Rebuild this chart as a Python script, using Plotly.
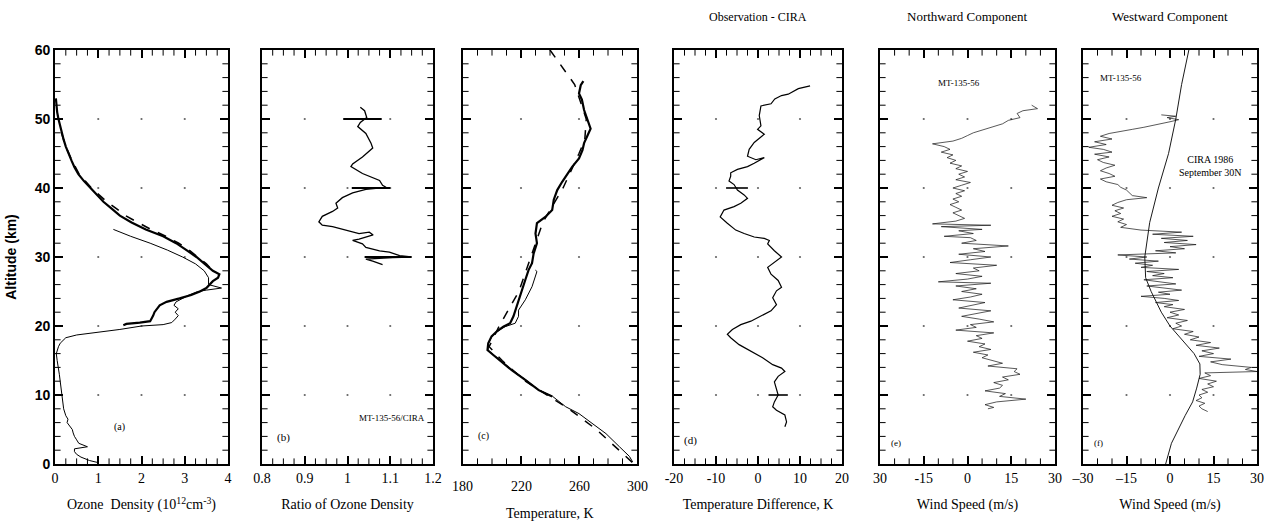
import plotly.graph_objects as go

W, H = 1270, 527

# ---------------- data ----------------
# (a) ozone density, 10^12 cm^-3
lidar_alt = [53, 52, 51, 50, 49, 48, 47, 46, 45, 44, 43, 42, 41, 40, 39, 38, 37, 36, 35, 34, 33, 32, 31, 30,
             29, 28.5, 28, 27.5, 27, 26.5, 26, 25.5, 25, 24.5, 24, 23.5, 23, 22.5, 22, 21.5, 21, 20.7, 20.5, 20.3, 20.1]
lidar_den = [0.02, 0.03, 0.05, 0.08, 0.12, 0.15, 0.2, 0.25, 0.31, 0.38, 0.45, 0.54, 0.67, 0.82, 0.97, 1.12, 1.31, 1.5, 1.77, 2.1, 2.5, 2.8, 3.04, 3.27,
             3.46, 3.55, 3.65, 3.8, 3.77, 3.65, 3.58, 3.5, 3.35, 3.15, 2.88, 2.58, 2.42, 2.35, 2.3, 2.27, 2.23, 2.2, 1.96, 1.65, 1.58]
cira_oz_alt = [48, 46, 44, 42, 40, 38, 37, 36, 35, 34, 33, 32, 31, 30, 29, 28]
cira_oz_den = [0.15, 0.25, 0.39, 0.56, 0.84, 1.2, 1.42, 1.63, 1.92, 2.22, 2.56, 2.86, 3.1, 3.3, 3.5, 3.65]
sonde_alt = [34, 33, 32, 31, 30, 29, 28, 27, 26, 25.7, 25.5, 25.2, 25, 24.5, 24, 23.5, 23, 22.5, 22, 21.5, 21, 20.5,
             20.2, 20, 19.5, 19, 18.7, 18.3, 17.5, 17, 16.5, 16, 15, 14, 13, 12, 11, 10, 9, 8, 7, 6.5, 6, 5.5, 5,
             4.5, 4, 3.5, 3, 2.5, 2.2, 1.8, 1.4, 1, 0.5, 0.2]
sonde_den = [1.35, 1.75, 2.2, 2.6, 2.95, 3.25, 3.45, 3.55, 3.55, 3.7, 3.85, 3.5, 3.3, 3.1, 2.95, 2.8, 2.75, 2.85, 2.78, 2.85, 2.78, 2.7,
             2.5, 2.0, 1.5, 0.9, 0.5, 0.25, 0.12, 0.08, 0.05, 0.03, 0.05, 0.08, 0.1, 0.12, 0.14, 0.16, 0.18, 0.2, 0.25, 0.3, 0.28, 0.35, 0.4,
             0.42, 0.45, 0.5, 0.55, 0.75, 0.45, 0.45, 0.5, 0.6, 0.8, 1.0]

# (b) ratio of ozone density
ratio_alt = [51.7, 51.2, 50.2, 49.5, 48.9, 47.9, 46.5, 45.8, 44.5, 43.5, 43.1, 42.1, 41.1, 40.4, 40.1, 39.8, 39.3,
             38.6, 37.8, 37.1, 36.6, 35.9, 35.1, 34.6, 34.4, 33.9, 33.4, 33.6, 33.2, 32.6, 32.4, 31.9, 31.4, 30.9,
             30.7, 30.2, 30.0, 29.9, 29.7, 29.4, 28.9]
ratio_val = [1.03, 1.04, 1.045, 1.03, 1.024, 1.043, 1.055, 1.059, 1.035, 1.012, 1.008, 1.035, 1.075, 1.082, 1.09, 1.043, 1.012,
             0.988, 0.973, 0.977, 0.965, 0.941, 0.933, 0.941, 0.965, 0.996, 1.027, 1.051, 1.06, 1.027, 1.012, 1.035, 1.043, 1.075,
             1.098, 1.122, 1.149, 1.106, 1.043, 1.059, 1.082]
ratio_err_alt = [50, 40, 30]
ratio_err_mid = [1.035, 1.055, 1.095]
ratio_err_half = [0.045, 0.045, 0.055]

# (c) temperature, K
tobs_alt = [55.5, 54.9, 53.7, 52.8, 51.3, 49.9, 48.6, 47.9, 46.5, 45.5, 44.3, 43.1, 42.1, 40.9, 39.7, 38.3, 36.8, 35.8,
            34.9, 33.4, 32.0, 30.5, 29.1, 28.1, 26.7, 25.2, 23.8, 22.3, 21.4, 20.4, 19.9, 19.2, 18.5, 17.5, 16.5, 15.8,
            14.8, 13.6, 12.2, 10.7, 9.8]
tobs_val = [263, 261.2, 260, 262, 263.5, 265.8, 268, 266.5, 263.5, 262.4, 260, 255.4, 252, 248.4, 245, 242.6, 241.5, 236.8,
            231, 230, 231, 228.7, 227.6, 225.2, 223, 220.6, 218.3, 216, 214.8, 212.5, 207.8, 203.2, 199.7, 197.4, 196.9, 200.9,
            206.7, 213.6, 222.9, 232.2, 241.5]
tson_alt = [28.1, 27.9, 25.7, 23.8, 22.3, 21.4, 20.4, 19.9, 19.2, 18.5, 17.5, 16.5, 15.8, 14.8, 13.6, 12.2, 10.7, 9.8,
            8.3, 7.3, 5.9, 4.4, 2.5, 1.1, 0.3]
tson_val = [229.9, 231, 227.6, 223, 218.3, 218.3, 216, 209, 203.5, 200, 197.6, 197.2, 201.2, 207, 214, 223.3, 232.5, 241.8,
            250.8, 260, 269.3, 278.6, 287.9, 294.8, 297]
tcira_alt = [60, 55, 50, 47, 45, 40, 35, 30, 25, 20, 17, 15, 12, 10, 8, 5, 2, 0]
tcira_val = [240, 257, 265, 264, 260, 249, 235, 227, 218.5, 205, 198, 207, 223, 238, 253, 272, 288, 298]

# (d) observation - CIRA, K
dT_alt = [54.8, 54.4, 53.6, 53.4, 52.9, 52.2, 51.9, 50.5, 49.0, 48.5, 47.8, 46.6, 45.6, 44.6, 44.1, 44.4, 43.6, 43.1,
          42.7, 42.2, 41.7, 41.0, 40.5, 39.7, 39.0, 38.5, 37.8, 37.3, 36.8, 35.8, 34.9, 33.9, 33.4, 32.9, 32.7, 32.4,
          31.9, 30.9, 30.0, 29.2, 28.5, 27.5, 26.6, 25.6, 25.1, 24.1, 23.1, 22.2, 21.7, 20.7, 20.2, 19.5, 18.8, 18.3,
          17.3, 16.3, 15.4, 14.4, 13.9, 13.4, 12.7, 11.9, 11.0, 10.0, 9.0, 8.3, 7.8, 7.1, 6.1, 5.4]
dT_val = [12.4, 9.6, 7.2, 5.6, 4.0, 3.1, 0.7, 0.3, 0.7, -0.1, 1.5, -0.9, -2.1, -2.5, -0.5, 1.5, -0.9, -2.5,
          -4.9, -6.5, -6.5, -6.9, -5.7, -4.9, -3.3, -2.5, -4.1, -5.7, -8.1, -9.0, -7.3, -5.3, -3.3, -0.9, 1.5, 2.7,
          2.3, 3.9, 5.6, 3.9, 2.3, 3.1, 4.8, 5.6, 4.4, 3.5, 4.4, 3.1, 1.5, -1.7, -4.1, -6.1, -7.3, -6.5,
          -4.5, -1.7, 1.1, 3.5, 5.6, 6.4, 4.8, 3.9, 4.4, 4.8, 3.9, 3.5, 4.4, 6.4, 6.8, 6.4]
dT_err_alt = [40, 10]
dT_err_mid = [-5.0, 4.8]
dT_err_half = [2.6, 2.3]

# (e) northward wind, m/s
v_alt = [52.0, 51.5, 51.2, 50.8, 50.2, 49.8, 49.3, 48.8, 48.4, 48.0, 47.6, 47.2, 46.8, 46.4, 46.0, 45.6, 45.2, 44.8,
         44.4, 44.0, 43.6, 43.2, 42.8, 42.4, 42.0, 41.6, 41.2, 40.8, 40.4, 40.0, 39.6, 39.2, 38.8, 38.4, 38.0, 37.6,
         37.2, 36.8, 36.4, 36.0, 35.6, 35.2, 34.8, 34.6, 34.4, 34.0, 33.8, 33.4, 33.0, 32.8, 32.4, 32.0, 31.6, 31.2,
         30.8, 30.4, 30.0, 29.6, 29.2, 28.8, 28.4, 28.0, 27.6, 27.2, 26.8, 26.4, 26.2, 25.8, 25.4, 25.0, 24.6, 24.2,
         23.8, 23.4, 23.0, 22.6, 22.2, 21.8, 21.4, 21.0, 20.6, 20.2, 19.8, 19.4, 19.0, 18.6, 18.2, 17.8, 17.4, 17.0,
         16.6, 16.2, 15.8, 15.4, 15.0, 14.6, 14.2, 13.8, 13.4, 13.0, 12.6, 12.2, 11.8, 11.4, 11.0, 10.6, 10.2, 9.8,
         9.4, 9.0, 8.6, 8.2, 8.0]
v_val = [22, 24, 19, 17, 18, 14, 12, 8, 5, 2, 0, -2, -5, -12, -8, -6, -9, -5,
         -7, -4, -6, -2, -4, 0, -3, -1, -4, 1, -2, -5, -1, -4, -2, -5, -3, -6,
         -4, -2, -5, -3, -1, -4, -12, 8, -9, 5, -3, 2, -8, 1, 3, -2, 14, 2,
         6, -3, 8, 1, -6, 10, 2, 4, -4, 5, 0, -10, 8, -4, 3, -2, 5, 1,
         -5, 6, 2, -3, 8, 3, -2, 4, 9, 1, 3, -4, 9, 3, 5, 0, 6, 4,
         8, 2, 7, 5, 9, 12, 7, 17, 16, 18, 12, 14, 9, 12, 11, 6, 13, 11,
         20, 10, 6, 9, 7]

# (f) westward wind, m/s
u_alt = [50.6, 50.4, 50.2, 49.9, 49.6, 49.2, 48.8, 48.5, 48.2, 47.9, 47.5, 47.1, 46.7, 46.3, 45.9, 45.6, 45.2, 44.9,
         44.5, 44.1, 43.7, 43.3, 42.9, 42.5, 42.1, 41.7, 41.3, 40.9, 40.5, 40.1, 39.7, 39.3, 38.9, 38.6, 38.3, 37.9,
         37.5, 37.1, 36.7, 36.3, 35.9, 35.5, 35.1, 34.7, 34.3, 33.9, 33.6, 33.3, 33.0, 32.7, 32.4, 32.1, 31.8, 31.5,
         31.2, 30.9, 30.6, 30.3, 30.0, 29.7, 29.4, 29.1, 28.8, 28.5, 28.2, 27.9, 27.6, 27.3, 27.0, 26.7, 26.4, 26.1,
         25.8, 25.5, 25.2, 24.9, 24.6, 24.3, 24.0, 23.7, 23.4, 23.1, 22.8, 22.4, 22.0, 21.6, 21.2, 20.8, 20.4, 20.0,
         19.6, 19.2, 18.8, 18.4, 18.0, 17.6, 17.2, 16.8, 16.4, 16.0, 15.6, 15.2, 14.8, 14.4, 14.0, 13.7, 13.4, 13.2,
         12.8, 12.4, 12.0, 11.6, 11.2, 10.8, 10.4, 10.0, 9.6, 9.2, 8.8, 8.4, 8.0, 7.6]
u_val = [-3, 2, -1, 3, 0, -4, -9, -13, -17, -21, -24, -20, -26, -22, -28, -23, -20, -26,
         -21, -25, -23, -19, -22, -24, -21, -19, -24, -22, -18, -17, -15, -14, -13, -8, -15, -18,
         -20, -16, -19, -17, -20, -16, -18, -15, -17, -10, 4, -6, 8, -3, 6, -2, 9, 0,
         5, -5, 2, -18, -8, -14, -4, -12, -6, -10, 3, -8, -2, -6, 1, -9, -4, 2,
         -8, -2, 4, -4, 0, -10, -2, 3, -5, 1, -2, 5, 0, 3, -1, 6, 2, 4,
         1, 8, 5, 10, 7, 14, 9, 17, 11, 15, 10, 21, 14, 18, 28, 26, 30, 12,
         14, 10, 16, 13, 15, 11, 13, 10, 11, 9, 12, 10, 11, 13]
ucira_alt = [60, 55, 50, 45, 40, 35, 30, 27, 25, 22, 20, 18, 16, 14.5, 13, 11, 9, 7, 5, 3, 0]
ucira_val = [6.5, 4, 2, -0.5, -4, -7, -8.7, -8.4, -6.5, -3, 0, 4, 8.3, 10.3, 10.4, 9.2, 7.8, 5.2, 2.8, 0.5, -1.5]

# ---------------- axes ----------------
alt_ticks = [0, 10, 20, 30, 40, 50, 60]
x_ticks = [[0, 1, 2, 3, 4], [0.8, 0.9, 1.0, 1.1, 1.2], [180, 220, 260, 300],
           [-20, -10, 0, 10, 20], [-30, -15, 0, 15, 30], [-30, -15, 0, 15, 30]]
x_ticktext = [["0", "1", "2", "3", "4"], ["0.8", "0.9", "1", "1.1", "1.2"], ["180", "220", "260", "300"],
              ["-20", "-10", "0", "10", "20"], ["30", "-15", "0", "15", "30"], ["\u201330", "\u201315", "0", "15", "30"]]
x_titles = ["Ozone  Density (10<sup>12</sup>cm<sup>-3</sup>)", "Ratio of Ozone Density", "Temperature, K",
            "Temperature Difference, K", "Wind Speed (m/s)", "Wind Speed (m/s)"]
x_minor_n = [16, 16, 12, 16, 12, 12]   # minor intervals across each x range
alt_minor_n = 30
panel_px = [(55, 228), (262, 433), (463, 637), (674, 842), (880, 1055), (1083, 1257)]
box_top, box_bot = 50, 464
LOW = 2  # panel (c) carries its tick labels and title a little lower

SERIF = "Liberation Serif, Times New Roman, serif"
SANS = "Liberation Sans, Arial, sans-serif"

fig = go.Figure()


def ax(i):
    return ("x" if i == 0 else f"x{i+1}"), ("y" if i == 0 else f"y{i+1}")


def line(i, x, y, width=1.0, dash="solid", color="black"):
    xa, ya = ax(i)
    fig.add_trace(go.Scatter(x=x, y=y, mode="lines", xaxis=xa, yaxis=ya, showlegend=False,
                             line=dict(color=color, width=width, dash=dash)))


def errbars(i, mid, alt, half, width=2.0):
    xa, ya = ax(i)
    fig.add_trace(go.Scatter(x=mid, y=alt, mode="markers", xaxis=xa, yaxis=ya, showlegend=False,
                             marker=dict(size=1, color="black"),
                             error_x=dict(type="data", array=half, visible=True, color="black",
                                          thickness=width, width=0)))


def minor_vals(lo, hi, n):
    return [lo + (hi - lo) * k / n for k in range(1, n)]


for i in range(6):
    xa, ya = ax(i)
    lo, hi = x_ticks[i][0], x_ticks[i][-1]
    # grid dots at major-tick intersections
    xs = x_ticks[i][1:-1]
    gx = [x for x in xs for _ in alt_ticks[1:-1]]
    gy = [y for _ in xs for y in alt_ticks[1:-1]]
    fig.add_trace(go.Scatter(x=gx, y=gy, mode="markers", xaxis=xa, yaxis=ya, showlegend=False,
                             marker=dict(size=2.2, color="#666")))
    # minor ticks along the box edges (half of each mark is clipped by the plot area)
    mx = minor_vals(lo, hi, x_minor_n[i])
    my = minor_vals(0, 60, alt_minor_n)
    fig.add_trace(go.Scatter(x=mx + mx, y=[0] * len(mx) + [60] * len(mx), mode="markers",
                             xaxis=xa, yaxis=ya, showlegend=False, cliponaxis=True,
                             marker=dict(symbol="line-ns", size=8, line=dict(width=1, color="black"))))
    fig.add_trace(go.Scatter(x=[lo] * len(my) + [hi] * len(my), y=my + my, mode="markers",
                             xaxis=xa, yaxis=ya, showlegend=False, cliponaxis=True,
                             marker=dict(symbol="line-ew", size=8, line=dict(width=1, color="black"))))

line(0, sonde_den, sonde_alt, 1.0)
line(0, cira_oz_den, cira_oz_alt, 1.6, "dash")
line(0, lidar_den, lidar_alt, 2.2)
line(1, ratio_val, ratio_alt, 1.3)
errbars(1, ratio_err_mid, ratio_err_alt, ratio_err_half, 2.2)
line(2, tcira_val, tcira_alt, 1.5, "dash")
line(2, tson_val, tson_alt, 1.0)
line(2, tobs_val, tobs_alt, 2.2)
line(3, dT_val, dT_alt, 1.2)
errbars(3, dT_err_mid, dT_err_alt, dT_err_half, 1.6)
line(4, v_val, v_alt, 0.7, color="#111")
line(5, ucira_val, ucira_alt, 0.9)
line(5, u_val, u_alt, 0.7, color="#111")

layout = dict(width=W, height=H, margin=dict(l=0, r=0, t=0, b=0, autoexpand=False),
              paper_bgcolor="white", plot_bgcolor="white", showlegend=False,
              font=dict(family=SERIF, size=14, color="black"))

ydom = [1 - box_bot / H, 1 - box_top / H]
for i in range(6):
    xl, xr = panel_px[i]
    xk = "xaxis" if i == 0 else f"xaxis{i+1}"
    yk = "yaxis" if i == 0 else f"yaxis{i+1}"
    xa, ya = ax(i)
    lo, hi = x_ticks[i][0], x_ticks[i][-1]
    layout[xk] = dict(domain=[xl / W, xr / W], range=[lo, hi],
                      tickmode="array", tickvals=x_ticks[i], ticktext=x_ticktext[i],
                      showticklabels=(i != LOW),
                      ticks="inside", ticklen=8, tickwidth=1.5, tickcolor="black",
                      showline=True, linecolor="black", linewidth=1.6, mirror="ticks",
                      showgrid=False, zeroline=False, fixedrange=True, automargin=False,
                      anchor=ya,
                      tickfont=dict(family=SERIF, size=14),
                      title=dict(text=(x_titles[i] if i != LOW else ""), font=dict(family=SERIF, size=14)))
    layout[yk] = dict(domain=ydom, range=[0, 60],
                      tickmode="array", tickvals=alt_ticks, ticktext=[str(t) for t in alt_ticks],
                      showticklabels=(i == 0),
                      ticks="inside", ticklen=8, tickwidth=1.5, tickcolor="black",
                      showline=True, linecolor="black", linewidth=1.6, mirror="ticks",
                      showgrid=False, zeroline=False, fixedrange=True, automargin=False,
                      anchor=xa,
                      tickfont=dict(family=SANS, size=14, weight="bold"))
layout["yaxis"]["title"] = dict(text="Altitude (km)", font=dict(family=SANS, size=14, weight="bold"))

fig.update_layout(**layout)

annotations = []
top_titles = [(3, "Observation - CIRA", 12), (4, "Northward Component", 13), (5, "Westward Component", 13)]
for i, txt, sz in top_titles:
    xl, xr = panel_px[i]
    annotations.append(dict(text=txt, x=(xl + xr) / 2 / W, y=1 - 17 / H, xref="paper", yref="paper",
                            showarrow=False, font=dict(family=SERIF, size=sz), xanchor="center", yanchor="middle"))

# panel (c): tick labels and title set lower than the others
xa_c, _ = ax(LOW)
for v, t in zip(x_ticks[LOW], x_ticktext[LOW]):
    annotations.append(dict(text=t, x=v, y=1 - 486 / H, xref=xa_c, yref="paper", showarrow=False,
                            xanchor="center", yanchor="middle", font=dict(family=SERIF, size=14)))
annotations.append(dict(text=x_titles[LOW], x=sum(panel_px[LOW]) / 2 / W, y=1 - 513 / H, xref="paper",
                        yref="paper", showarrow=False, xanchor="center", yanchor="middle",
                        font=dict(family=SERIF, size=14)))

labels = [(0, "(a)", 1.5, 5.4, "center", 10), (1, "(b)", 0.83, 3.8, "left", 11),
          (1, "MT-135-56/CIRA", 1.105, 6.6, "center", 9), (2, "(c)", 189, 4.0, "left", 10),
          (3, "(d)", -18, 3.4, "left", 11), (4, "(e)", -27, 3.1, "left", 9),
          (4, "MT-135-56", -3, 55.2, "center", 9), (5, "(f)", -27, 3.0, "left", 9),
          (5, "MT-135-56", -17, 56.0, "center", 9), (5, "CIRA 1986<br>September 30N", 14, 43.2, "center", 10)]
for i, txt, x, y, anc, sz in labels:
    xa, ya = ax(i)
    annotations.append(dict(text=txt, x=x, y=y, xref=xa, yref=ya, showarrow=False, xanchor=anc,
                            yanchor="middle", font=dict(family=SERIF, size=sz)))
fig.update_layout(annotations=annotations)
fig.write_html("out.html")
